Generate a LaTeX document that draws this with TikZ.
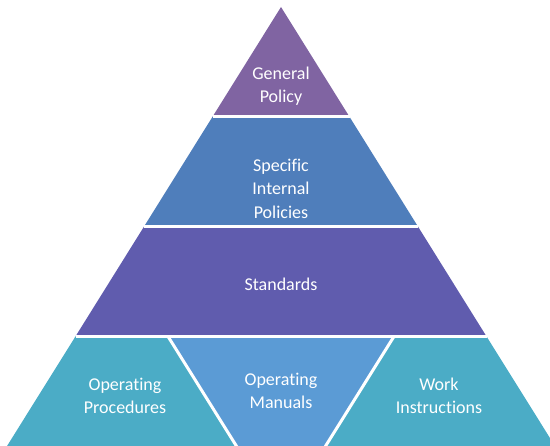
\documentclass[tikz,border=0pt]{standalone}
\usepackage{fontspec}
\setmainfont{Carlito}[Ligatures=NoCommon]

\definecolor{tierpurple}{HTML}{8064A2}
\definecolor{tierblue}{HTML}{4F7EBB}
\definecolor{tierindigo}{HTML}{605CAE}
\definecolor{tierteal}{HTML}{4BACC6}
\definecolor{tiersky}{HTML}{5B9BD5}

\tikzset{
  gap/.style={draw=white, line width=3pt},
  tiertext/.style={text=white, align=center, inner sep=0pt,
    font=\fontsize{18}{23.5}\selectfont}
}

\begin{document}
\begin{tikzpicture}[x=1pt,y=-1pt]
  \useasboundingbox (0,0) rectangle (550,446);
  \clip (0,0) rectangle (550,446);

  % corners of the tiers
  \coordinate (apex) at (281,7);
  \coordinate (l1) at (212.5,116.8);  \coordinate (r1) at (349.5,116.8);
  \coordinate (l2) at (144,226.6);    \coordinate (r2) at (418,226.6);
  \coordinate (l3) at (75.5,336.4);   \coordinate (r3) at (486.5,336.4);
  \coordinate (l4) at (-1.7,460);     \coordinate (r4) at (563.7,460);
  \coordinate (wl) at (168,336.4);    \coordinate (wr) at (394,336.4);
  \coordinate (wtip) at (281,517.5);

  % pyramid tiers, top to bottom
  \fill[tierpurple] (apex) -- (r1) -- (l1) -- cycle;
  \fill[tierblue] (l1) -- (r1) -- (r2) -- (l2) -- cycle;
  \fill[tierindigo] (l2) -- (r2) -- (r3) -- (l3) -- cycle;
  \fill[tierteal] (l3) -- (r3) -- (r4) -- (l4) -- cycle;
  % upside-down wedge in the base tier
  \fill[tiersky] (wl) -- (wr) -- (wtip) -- cycle;

  % white gaps between the tiers
  \draw[gap] (l1) -- (r1);
  \draw[gap] (l2) -- (r2);
  \draw[gap] (l3) -- (r3);
  \draw[gap] (wl) -- (wtip) -- (wr);

  % tier names
  \node[tiertext] (genpol) at (281,86) {General\\Policy};
  \node[tiertext] (specpol) at (281,188.5) {Specific\\Internal\\Policies};
  \node[tiertext] (stds) at (281,284) {Standards};
  \node[tiertext] (opproc) at (125,396) {Operating\\Procedures};
  \node[tiertext] (opman) at (281,391) {Operating\\Manuals};
  \node[tiertext] (workins) at (439,396) {Work\\Instructions};
\end{tikzpicture}
\end{document}
